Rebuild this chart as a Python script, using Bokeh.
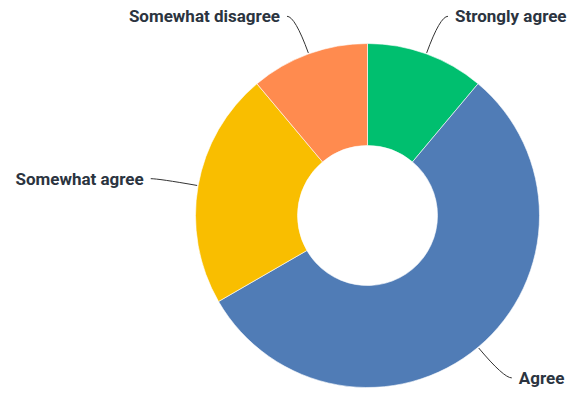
import math
from bokeh.plotting import figure
from bokeh.models import Range1d, ColumnDataSource
from bokeh.core.properties import value
from bokeh.embed import file_html
from bokeh.resources import INLINE

categories = ["Strongly agree", "Agree", "Somewhat agree", "Somewhat disagree"]
counts = [1, 5, 2, 1]
colors = ["#00bf6f", "#507cb6", "#f9be00", "#ff8b4f"]

W, H = 573, 394
cx, cy = 367, 394 - 215
r_out, r_in = 172, 70
r_elbow = 212

p = figure(width=W, height=H, output_backend="svg", toolbar_location=None,
           x_range=Range1d(0, W), y_range=Range1d(0, H), min_border=0)
p.axis.visible = False
p.grid.visible = False
p.outline_line_color = None
p.background_fill_color = "white"
p.border_fill_color = "white"

total = sum(counts)
starts, ends, mids = [], [], []
a = math.pi / 2
for c in counts:
    sweep = 2 * math.pi * c / total
    starts.append(a)
    ends.append(a - sweep)
    mids.append(a - sweep / 2)
    a -= sweep

src = ColumnDataSource(dict(x=[cx] * len(counts), y=[cy] * len(counts),
                            start=starts, end=ends, color=colors, cat=categories))
p.annular_wedge(x="x", y="y", inner_radius=r_in, outer_radius=r_out,
                start_angle="start", end_angle="end", direction="clock",
                fill_color="color", line_color="white", line_width=0.6, source=src)

x0s, y0s, cxs, cys, x1s, y1s = [], [], [], [], [], []
tx, ty, align = [], [], []
for m in mids:
    ca, sa = math.cos(m), math.sin(m)
    x0, y0 = cx + (r_out + 1) * ca, cy + (r_out + 1) * sa
    ex, ey = cx + r_elbow * ca, cy + r_elbow * sa
    side = 1 if ca >= 0 else -1
    x1, y1 = ex + side * 8, ey
    x0s.append(x0); y0s.append(y0); cxs.append(ex); cys.append(ey)
    x1s.append(x1); y1s.append(y1)
    tx.append(x1 + side * 7); ty.append(y1)
    align.append("left" if side > 0 else "right")

p.quadratic(x0=x0s, y0=y0s, x1=x1s, y1=y1s, cx=cxs, cy=cys,
            line_color="#333333", line_width=1)
p.text(x=tx, y=ty, text=categories, text_align=align, text_baseline="middle",
       text_font=value("Roboto"), text_font_size="17px", text_font_style="bold",
       text_color="#2b3440")

open("out.html", "w").write(file_html(p, INLINE))
